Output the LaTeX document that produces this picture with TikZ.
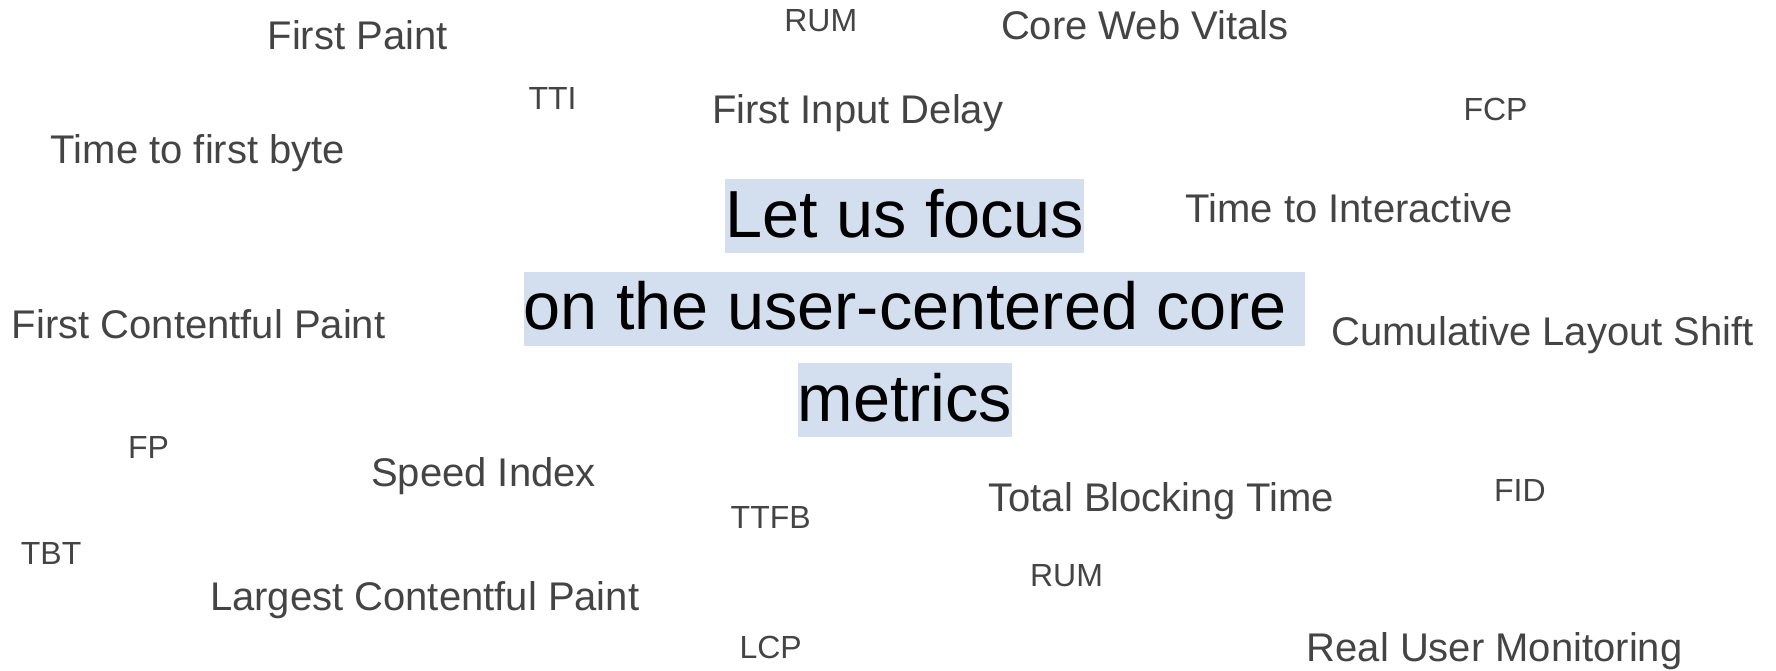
\documentclass[tikz,border=0pt]{standalone}
\usepackage{fontspec}
\setmainfont{Liberation Sans}
\definecolor{wordgray}{HTML}{444444}
\definecolor{hl}{HTML}{D3DEEE}
\tikzset{
  big/.style={anchor=base, inner sep=0pt, text=wordgray, font=\fontsize{40}{48}\selectfont},
  small/.style={anchor=base, inner sep=0pt, text=wordgray, font=\fontsize{32}{38}\selectfont},
  focus/.style={anchor=base west, inner xsep=0pt, inner ysep=0pt, fill=hl, text=black,
     text height=58pt, text depth=16pt, font=\fontsize{66.6}{80}\selectfont}
}
\begin{document}
\begin{tikzpicture}[x=1pt,y=-1pt]
\useasboundingbox (0,0) rectangle (1776,671);
% central highlighted sentence
\node[focus] (l1) at (725,237.3) {Let us focus};
\node[focus] (l2) at (523.5,329.5) {on the user-centered core\kern0.278em};
\node[focus] (l3) at (797.4,421) {metrics};
% surrounding words
\node[big]   (w1)  at (357.6,49.3)  {First Paint};
\node[small] (w2)  at (820.8,31.7)  {RUM};
\node[big]   (w3)  at (1144.8,39.3) {Core Web Vitals};
\node[small] (w4)  at (552.5,109.3) {TTI};
\node[big]   (w5)  at (857.6,123.3) {First Input Delay};
\node[small] (w6)  at (1495.5,120.7) {FCP};
\node[big]   (w7)  at (198,164)     {Time to first byte};
\node[big]   (w8)  at (1349.4,222.7) {Time to Interactive};
\node[big]   (w9)  at (198.6,338.5) {First Contentful Paint};
\node[big]   (w10) at (1542.7,345)  {Cumulative Layout Shift};
\node[small] (w11) at (148.5,458.3) {FP};
\node[big]   (w12) at (483.5,486)   {Speed Index};
\node[small] (w13) at (770.7,528.3) {TTFB};
\node[big]   (w14) at (1161.2,511.7) {Total Blocking Time};
\node[small] (w15) at (1519.9,501.7) {FID};
\node[small] (w16) at (51.1,564.3)  {TBT};
\node[small] (w17) at (1066.5,586)  {RUM};
\node[big]   (w18) at (424.7,610)   {Largest Contentful Paint};
\node[small] (w19) at (770.7,658.3) {LCP};
\node[big]   (w20) at (1494.6,661)  {Real User Monitoring};
\end{tikzpicture}
\end{document}
